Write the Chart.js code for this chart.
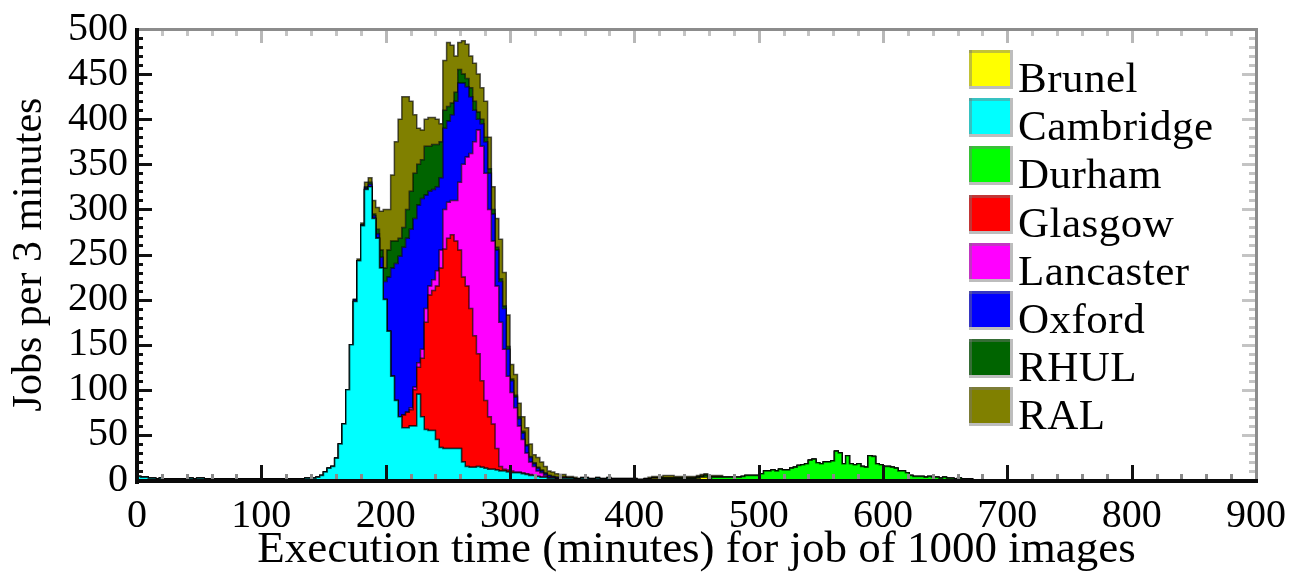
<!DOCTYPE html>
<html>
<head>
<meta charset="utf-8">
<title>Execution time per site</title>
<script src="https://cdn.jsdelivr.net/npm/chart.js@4.4.1/dist/chart.umd.min.js"></script>
<style>
  html, body { margin: 0; padding: 0; background: #ffffff; }
  #wrap { width: 1302px; height: 577px; position: relative; }
</style>
</head>
<body>
<div id="wrap"><canvas id="chart" width="1302" height="577"></canvas></div>
<script>
// ---- histogram layout ----
const BIN_MINUTES = 3;
const X_MAX = 900;

// ---- sites, in stacking order (bottom to top) ----
const sites = ['Brunel', 'Cambridge', 'Durham', 'Glasgow', 'Lancaster', 'Oxford', 'RHUL', 'RAL'];
const siteColors = ['#ffff00', '#00ffff', '#00ff00', '#ff0000', '#ff00ff', '#0000ff', '#006400', '#808000'];

// ---- axis tick labels ----
const xTickValues = [0, 100, 200, 300, 400, 500, 600, 700, 800, 900];
const yTickValues = [0, 50, 100, 150, 200, 250, 300, 350, 400, 450, 500];

// ---- jobs per 3-minute bin; each list starts at the given bin (minutes) ----
const brunelFrom = 408;
const brunel = [1, 1, 2, 2, 1, 1, 1, 1, 1, 1, 1, 1, 1, 1, 2, 3, 3, 1];

const cambridgeFrom = 0;
const cambridge = [
  4, 3, 3, 2, 2, 1, 2, 1, 1, 1, 1, 1, 1, 1, 2, 1, 2, 2, 1, 1, 1, 1, 1, 1,
  1, 1, 1, 1, 1, 1, 1, 1, 1, 1, 1, 1, 1, 1, 1, 1, 1, 1, 1, 1, 1, 2, 2,
  2, 3, 5, 9, 13, 15, 24, 40, 62, 100, 150, 198, 243, 282, 322, 325, 290, 268, 235, 200,
  165, 115, 88, 70, 58, 58, 60, 60, 95, 70, 56, 55, 55, 45, 36, 35, 35, 35, 35, 35,
  20, 15, 14, 14, 15, 14, 13, 12, 12, 11, 10, 10, 9, 8, 8, 8, 7, 6, 5, 5,
  4, 3, 3, 2, 2, 1, 1,
  2, 2, 2, 1, 1, 2, 2, 1, 1, 2, 1, 1, 2, 1, 1, 1, 1, 1, 1, 1
];

const durhamFrom = 420;
const durham = [
  1, 1, 1, 1, 1, 1, 1, 1, 1, 1, 1, 1,
  2, 2, 3, 3, 3, 3, 3, 3, 3, 3, 4, 5, 5, 5, 5,
  7, 10, 10, 11, 10, 12, 11, 11, 13, 14, 16, 17, 18, 22,
  23, 19, 18, 20, 20, 21, 32, 30, 18, 27, 18, 17, 18, 15,
  14, 27, 26, 18, 17, 15, 15, 14, 13, 10, 10, 8, 5, 4,
  4, 4, 3, 4, 3, 3, 2, 3, 2, 2, 1, 2, 1, 1, 1
];

const glasgowFrom = 210;
const glasgow = [
  0, 14, 17, 18, 40, 30, 65, 119, 150, 155, 170, 199, 221, 233, 237, 230, 220, 205,
  200, 176, 146, 125, 96, 75, 58, 50, 24, 5, 2, 2, 2, 1, 1, 1, 1, 1
];

const lancasterFrom = 219;
const lancaster = [
  2, 3, 5, 10, 15, 10, 12, 17, 20, 44, 40, 38, 45, 75, 125, 143, 172, 215, 248,
  260, 252, 230, 203, 180, 160, 133, 104, 87, 71, 51, 37, 23, 14, 10, 6, 5, 2, 1,
  1, 1, 1, 1
];

const oxfordFrom = 174;
const oxford = [
  2, 0, 1, 2, 3, 3, 5, 12, 20, 60, 120, 152, 178, 186, 193, 198, 187, 175, 167, 126,
  105, 100, 93, 80, 90, 90, 95, 110, 110, 90, 78, 63, 35, 12, 25, 35, 40, 30, 40, 45,
  45, 30, 13, 12, 8, 7, 8, 5, 3, 3, 2, 2, 2, 1, 1
];

const rhulFrom = 183;
const rhul = [
  1, 2, 2, 5, 8, 15, 30, 30, 25, 20, 22, 32, 42, 50, 45, 43, 54, 50, 50, 47,
  40, 20, 16, 13, 10, 15, 10, 9, 10, 10, 8, 5, 5, 5, 5, 3, 3, 3, 3, 2,
  2, 2, 2, 1, 1, 1, 1, 1, 1
];

const ralFrom = 177;
const ral = [
  2, 2, 5, 5, 15, 24, 43, 65, 45, 73, 110, 132, 145, 125, 100, 65, 40, 33, 30, 32,
  30, 28, 20, 55, 71, 64, 40, 30, 37, 38, 35, 42, 42, 35, 40, 35, 25, 32, 44, 37,
  35, 16, 23, 15, 16, 19, 14, 9, 11, 9, 7, 5, 5, 4, 4,
  3, 2, 2, 2, 1, 1, 1, 1, 1, 1, 1, 1, 1, 1, 1, 1, 1, 1, 1, 1, 1, 1, 1, 2, 2, 2, 2,
  3, 3, 3, 2, 2, 2, 2, 2, 2, 2, 2, 2, 2, 2, 2, 2
];

const siteCounts = [
  [brunelFrom, brunel], [cambridgeFrom, cambridge], [durhamFrom, durham],
  [glasgowFrom, glasgow], [lancasterFrom, lancaster], [oxfordFrom, oxford],
  [rhulFrom, rhul], [ralFrom, ral]
];

// bin edges 0, 3, ..., 900 (the last edge closes the final bin)
const binStarts = [];
for (let m = 0; m <= X_MAX; m += BIN_MINUTES) binStarts.push(m);

function toPoints(from, counts) {
  const ys = new Array(binStarts.length).fill(0);
  counts.forEach((c, j) => { ys[from / BIN_MINUTES + j] = c; });
  return binStarts.map((m, i) => ({ x: m, y: ys[i] }));
}

const SERIF = "'Liberation Serif', 'Times New Roman', serif";

// inward tick marks and the box round the plot
const frameAndTicks = {
  id: 'frameAndTicks',
  afterDatasetsDraw(chart) {
    const { ctx, chartArea: a, scales: { x, y } } = chart;
    ctx.save();
    const seg = (x1, y1, x2, y2, color, w) => {
      ctx.strokeStyle = color; ctx.lineWidth = w;
      ctx.beginPath(); ctx.moveTo(x1, y1); ctx.lineTo(x2, y2); ctx.stroke();
    };
    for (let v = 0; v <= X_MAX; v += 20) {
      const px = Math.round(x.getPixelForValue(v)) + 0.5;
      const major = v % 100 === 0;
      seg(px, a.bottom, px, a.bottom - (major ? 15 : 6), major ? '#111111' : '#8a8a8a', 3);
      seg(px, a.top, px, a.top + (major ? 14 : 7), major ? '#b8b8b8' : '#c4c4c4', 3);
    }
    for (let v = 0; v <= 500; v += 10) {
      const py = Math.round(y.getPixelForValue(v)) + 0.5;
      const major = v % 50 === 0;
      seg(a.left, py, a.left + (major ? 15 : 6), py, '#111111', 3);
      seg(a.right, py, a.right - (major ? 14 : 7), py, '#c4c4c4', 3);
    }
    // top and right edges (light), left and bottom axes (heavy)
    ctx.fillStyle = '#8c8c8c';
    ctx.fillRect(a.left - 2, a.top - 1, a.right - a.left + 3, 3);
    ctx.fillRect(a.right - 1, a.top - 1, 3, a.bottom - a.top + 2);
    ctx.fillStyle = '#0a0a0a';
    ctx.fillRect(a.left - 2, a.top - 1, 4, a.bottom - a.top + 5);
    ctx.fillRect(a.left - 2, a.bottom - 1, a.right - a.left + 4, 4);
    ctx.restore();
  }
};

// site key inside the plot, one row per dataset
const siteKey = {
  id: 'siteKey',
  afterDraw(chart) {
    const ctx = chart.ctx;
    ctx.save();
    ctx.font = '43px ' + SERIF;
    if ('letterSpacing' in ctx) ctx.letterSpacing = '0.5px';
    ctx.textBaseline = 'alphabetic';
    ctx.textAlign = 'left';
    chart.data.datasets.forEach((ds, i) => {
      const top = Math.round(50 + i * 48.2);
      const left = 969, w = 44, h = 39;
      ctx.fillStyle = ds.backgroundColor;
      ctx.fillRect(left, top, w, h);
      ctx.globalAlpha = 0.45;
      ctx.fillStyle = '#777777';
      ctx.fillRect(left, top, w, 3);
      ctx.fillRect(left, top, 3, h);
      ctx.globalAlpha = 1;
      ctx.fillStyle = '#bdbdbd';
      ctx.fillRect(left + w - 3, top, 3, h);
      ctx.fillRect(left, top + h - 3, w, 3);
      ctx.fillStyle = '#000000';
      ctx.fillText(ds.label, 1018, top + 42);
    });
    ctx.restore();
  }
};

new Chart(document.getElementById('chart'), {
  type: 'line',
  data: {
    datasets: sites.map((name, i) => ({
      label: name,
      data: toPoints(siteCounts[i][0], siteCounts[i][1]),
      backgroundColor: siteColors[i],
      borderColor: 'rgba(0,0,0,0.65)',
      borderWidth: 1.5,
      fill: i === 0 ? 'origin' : '-1',
      stepped: true,
      pointRadius: 0
    }))
  },
  options: {
    responsive: false,
    animation: false,
    devicePixelRatio: 1,
    layout: { padding: { top: 24, right: 38, left: 0, bottom: 0 } },
    plugins: { legend: { display: false }, tooltip: { enabled: false } },
    scales: {
      x: {
        type: 'linear', min: 0, max: X_MAX,
        grid: { display: false, drawTicks: false },
        border: { display: false },
        afterBuildTicks: s => { s.ticks = xTickValues.map(v => ({ value: v })); },
        afterFit: s => { s.height = 97; },
        ticks: {
          autoSkip: false, maxRotation: 0, padding: 16, color: '#000000',
          font: { family: SERIF, size: 40, lineHeight: 1 }
        },
        title: {
          display: true, text: 'Execution time (minutes) for job of 1000 images',
          color: '#000000', padding: { top: 0, bottom: 4 },
          font: { family: SERIF, size: 45, lineHeight: 1 }
        }
      },
      y: {
        type: 'linear', min: 0, max: 500, stacked: true,
        grid: { display: false, drawTicks: false },
        border: { display: false },
        afterBuildTicks: s => { s.ticks = yTickValues.map(v => ({ value: v })); },
        afterFit: s => { s.width = 137; },
        ticks: {
          padding: 9, color: '#000000',
          font: { family: SERIF, size: 40, lineHeight: 1 }
        },
        title: {
          display: true, text: 'Jobs per 3 minutes',
          color: '#000000', padding: { top: 9, bottom: 0 },
          font: { family: SERIF, size: 42, lineHeight: 1 }
        }
      }
    }
  },
  plugins: [frameAndTicks, siteKey]
});
</script>
</body>
</html>
